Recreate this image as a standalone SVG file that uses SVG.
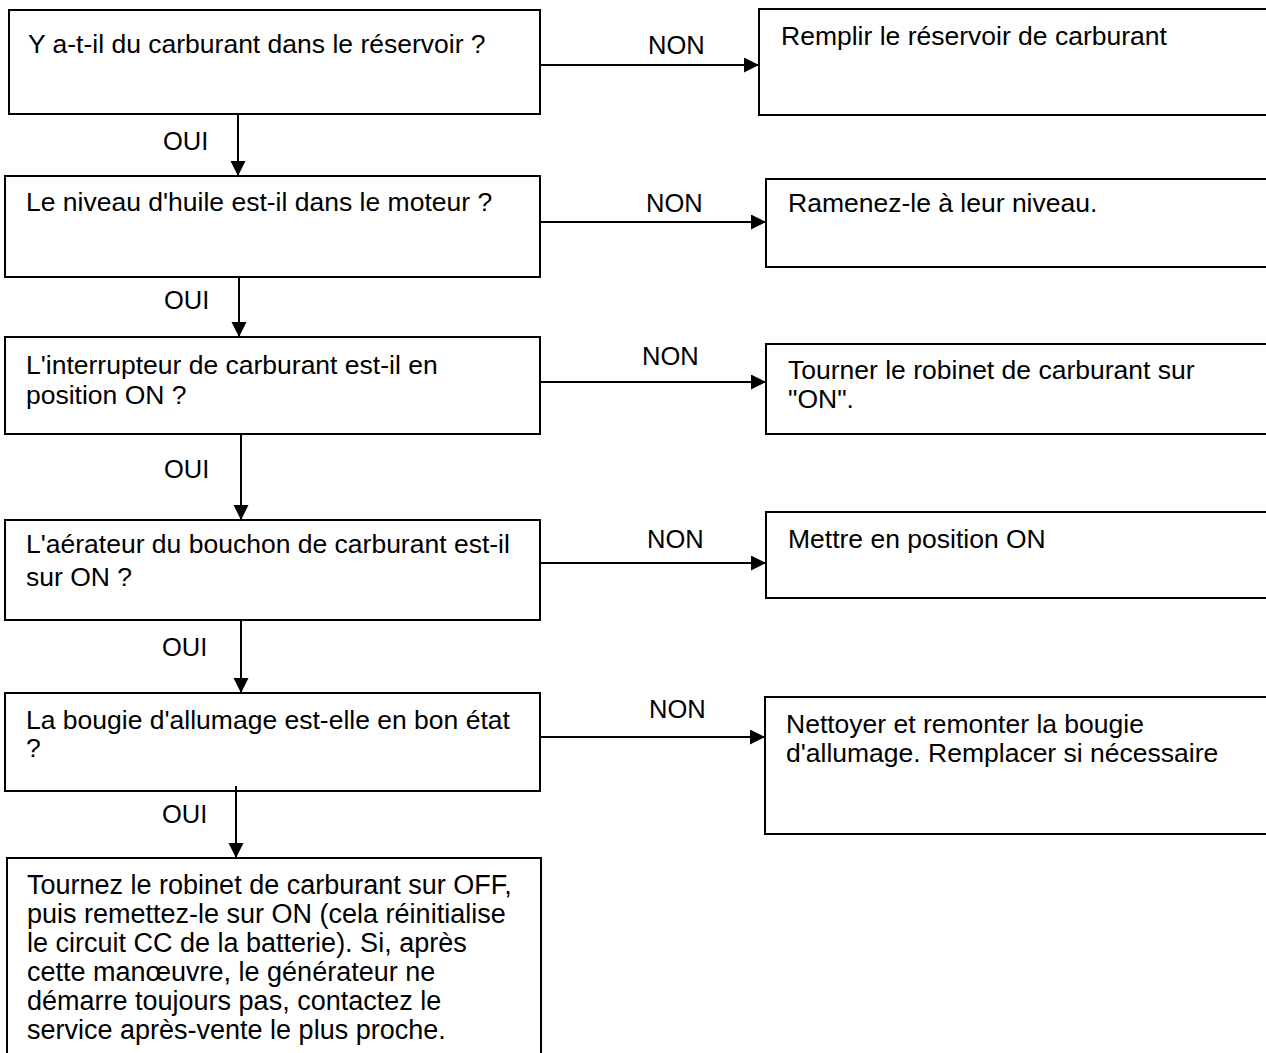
<svg xmlns="http://www.w3.org/2000/svg" width="1266" height="1053" viewBox="0 0 1266 1053">
<style>
.box{fill:#fff;stroke:#000;stroke-width:2}
.t{font-family:"Liberation Sans",Arial,sans-serif;font-size:26.5px;fill:#000}
.t6{font-family:"Liberation Sans",Arial,sans-serif;font-size:27px;fill:#000}
.lbl{font-family:"Liberation Sans",Arial,sans-serif;font-size:25.5px;fill:#000}
.c{stroke:#000;stroke-width:2;fill:none;marker-end:url(#ah)}
</style>
<defs>
<marker id="ah" markerUnits="userSpaceOnUse" markerWidth="16" markerHeight="16" refX="15" refY="7.5" orient="auto">
<path d="M0,0 L15,7.5 L0,15 z" fill="#000"/>
</marker>
</defs>
<rect width="1266" height="1053" fill="#fff"/>
<g id="q1"><rect class="box" x="9" y="10" width="531" height="104"/><text class="t" x="28" y="53">Y a-t-il du carburant dans le réservoir ?</text></g>
<g id="q2"><rect class="box" x="5" y="176" width="535" height="101"/><text class="t" x="26" y="211">Le niveau d'huile est-il dans le moteur ?</text></g>
<g id="q3"><rect class="box" x="5" y="337" width="535" height="97"/><text class="t" x="26" y="374">L'interrupteur de carburant est-il en</text><text class="t" x="26" y="404">position ON ?</text></g>
<g id="q4"><rect class="box" x="5" y="520" width="535" height="100"/><text class="t" x="26" y="553">L'aérateur du bouchon de carburant est-il</text><text class="t" x="26" y="586">sur ON ?</text></g>
<g id="q5"><rect class="box" x="5" y="693" width="535" height="98"/><text class="t" x="26" y="729">La bougie d'allumage est-elle en bon état</text><text class="t" x="26" y="757">?</text></g>
<g id="final"><rect class="box" x="7" y="858" width="534" height="210"/>
<text class="t6" x="27" y="894">Tournez le robinet de carburant sur OFF,</text>
<text class="t6" x="27" y="923">puis remettez-le sur ON (cela réinitialise</text>
<text class="t6" x="27" y="952">le circuit CC de la batterie). Si, après</text>
<text class="t6" x="27" y="981">cette manœuvre, le générateur ne</text>
<text class="t6" x="27" y="1010">démarre toujours pas, contactez le</text>
<text class="t6" x="27" y="1039">service après-vente le plus proche.</text></g>
<g id="a1"><rect class="box" x="759" y="9" width="520" height="106"/><text class="t" x="781" y="45">Remplir le réservoir de carburant</text></g>
<g id="a2"><rect class="box" x="766" y="179" width="520" height="88"/><text class="t" x="788" y="212">Ramenez-le à leur niveau.</text></g>
<g id="a3"><rect class="box" x="766" y="344" width="520" height="90"/><text class="t" x="788" y="379">Tourner le robinet de carburant sur</text><text class="t" x="788" y="408">"ON".</text></g>
<g id="a4"><rect class="box" x="766" y="512" width="520" height="86"/><text class="t" x="788" y="548">Mettre en position ON</text></g>
<g id="a5"><rect class="box" x="765" y="697" width="520" height="137"/><text class="t" x="786" y="733">Nettoyer et remonter la bougie</text><text class="t" x="786" y="762">d'allumage. Remplacer si nécessaire</text></g>
<g id="connectors">
<line class="c" x1="540" y1="65" x2="759" y2="65"/>
<line class="c" x1="540" y1="222" x2="766" y2="222"/>
<line class="c" x1="540" y1="382" x2="766" y2="382"/>
<line class="c" x1="540" y1="563" x2="766" y2="563"/>
<line class="c" x1="540" y1="737" x2="765" y2="737"/>
<line class="c" x1="238" y1="114" x2="238" y2="176"/>
<line class="c" x1="239" y1="277" x2="239" y2="337"/>
<line class="c" x1="241" y1="434" x2="241" y2="520"/>
<line class="c" x1="241" y1="620" x2="241" y2="693"/>
<line class="c" x1="236" y1="786" x2="236" y2="858"/>
<text class="lbl" x="648" y="54">NON</text>
<text class="lbl" x="646" y="212">NON</text>
<text class="lbl" x="642" y="365">NON</text>
<text class="lbl" x="647" y="548">NON</text>
<text class="lbl" x="649" y="718">NON</text>
<text class="lbl" x="163" y="150">OUI</text>
<text class="lbl" x="164" y="309">OUI</text>
<text class="lbl" x="164" y="478">OUI</text>
<text class="lbl" x="162" y="656">OUI</text>
<text class="lbl" x="162" y="823">OUI</text>
</g>
</svg>
